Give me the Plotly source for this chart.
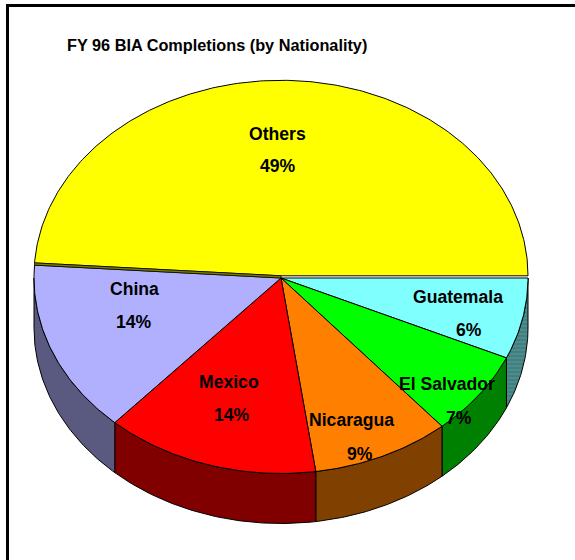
import math
import plotly.graph_objects as go

# --- data ---
categories = ["Guatemala", "El Salvador", "Nicaragua", "Mexico", "China", "Others"]
shares = [6.7, 7.0, 9.05, 14.0, 14.3, 48.95]
percent_labels = ["6%", "7%", "9%", "14%", "14%", "49%"]
top_colors = ["#80FFFF", "#00FF00", "#FF8000", "#FF0000", "#B0B0FF", "#FFFF00"]
wall_colors = ["#408080", "#008000", "#804000", "#800000", "#5A5A80", "#808000"]
title_text = "FY 96 BIA Completions (by Nationality)"
label_pos = [(458, 297), (447, 384), (351, 420), (229, 382), (134, 289), (277, 134)]
pct_pos = [(469, 330), (459, 418), (360, 454), (232, 415), (134, 322), (278, 166)]

# --- pie geometry (pixels of the plotting area) ---
CX, CY, RX, RY, DEPTH = 281, 278, 247, 195.5, 50
LIFT = 2.2  # the big slice sits slightly above the others


def arc(t0, t1, cy, n=None):
    n = n or max(2, int(abs(t1 - t0) * 1.5))
    pts = [t0 + (t1 - t0) * i / n for i in range(n + 1)]
    return ([CX + RX * math.cos(math.radians(t)) for t in pts],
            [cy - RY * math.sin(math.radians(t)) for t in pts])


total = sum(shares)
fig = go.Figure()
angle = 0.0
edges = []
for name, share in zip(categories, shares):
    start = angle
    angle -= share / total * 360
    edges.append((name, start, angle))

# side walls, only on the near half of the ellipse
for (name, a, b), col in zip(edges, wall_colors):
    a2, b2 = min(a, 0), max(b, -180)
    if a2 <= b2:
        continue
    x1, y1 = arc(a2, b2, CY)
    x2, y2 = arc(b2, a2, CY + DEPTH)
    extra = {}
    if name == "Guatemala":  # this wall is dithered in the original
        extra["fillpattern"] = dict(shape="-", fgcolor="#6FA5A5", bgcolor=col, size=4, solidity=0.3)
    fig.add_trace(go.Scatter(x=x1 + x2 + x1[:1], y=y1 + y2 + y1[:1], mode="lines", fill="toself",
                             fillcolor=col, line=dict(color="black", width=1), name=name,
                             hoverinfo="skip", **extra))

# top faces
for (name, a, b), col, share in zip(edges, top_colors, shares):
    cy = CY - LIFT if name == "Others" else CY
    x1, y1 = arc(a, b, cy)
    x = [CX] + x1 + [CX]
    y = [cy] + y1 + [cy]
    fig.add_trace(go.Scatter(x=x, y=y, mode="lines", fill="toself", fillcolor=col,
                             line=dict(color="black", width=1), name=name,
                             text=f"{name}: {share}%", hoverinfo="text"))

# thin visible wall of the lifted slice, along its cut edge on the China side
name, a, b = edges[-1]
xe, ye = arc(a, a, CY, 1)
xl = [CX, xe[0], xe[0], CX, CX]
yl = [CY, ye[0], ye[0] - LIFT, CY - LIFT, CY]
fig.add_trace(go.Scatter(x=xl, y=yl, mode="lines", fill="toself", fillcolor=wall_colors[-1],
                         line=dict(color="black", width=0.7), hoverinfo="skip"))

FONT = "Liberation Sans, Arial, sans-serif"
ann = []
for name, pct, p1, p2 in zip(categories, percent_labels, label_pos, pct_pos):
    for txt, (px, py) in ((name, p1), (pct, p2)):
        ann.append(dict(x=px, y=py, text=f"<b>{txt}</b>", showarrow=False, xanchor="center",
                        yanchor="middle", font=dict(family=FONT, size=17.6, color="black")))
ann.append(dict(x=64.5, y=45, text=f"<b>{title_text}</b>", showarrow=False, xanchor="left",
                yanchor="middle", font=dict(family=FONT, size=16.3, color="black")))

fig.update_layout(
    width=575, height=560, margin=dict(l=0, r=0, t=0, b=0),
    paper_bgcolor="white", plot_bgcolor="white", showlegend=False, annotations=ann,
    xaxis=dict(range=[0, 575], visible=False, fixedrange=True),
    yaxis=dict(range=[560, 0], visible=False, fixedrange=True),
    shapes=[
        dict(type="line", x0=7.5, x1=7.5, y0=4, y1=560, line=dict(color="black", width=3)),
        dict(type="line", x0=6, x1=575, y0=5.5, y1=5.5, line=dict(color="black", width=3)),
    ],
)
fig.write_html("out.html", config={"displayModeBar": False},
               post_script="document.body.style.margin='0';document.body.style.overflow='hidden';")
